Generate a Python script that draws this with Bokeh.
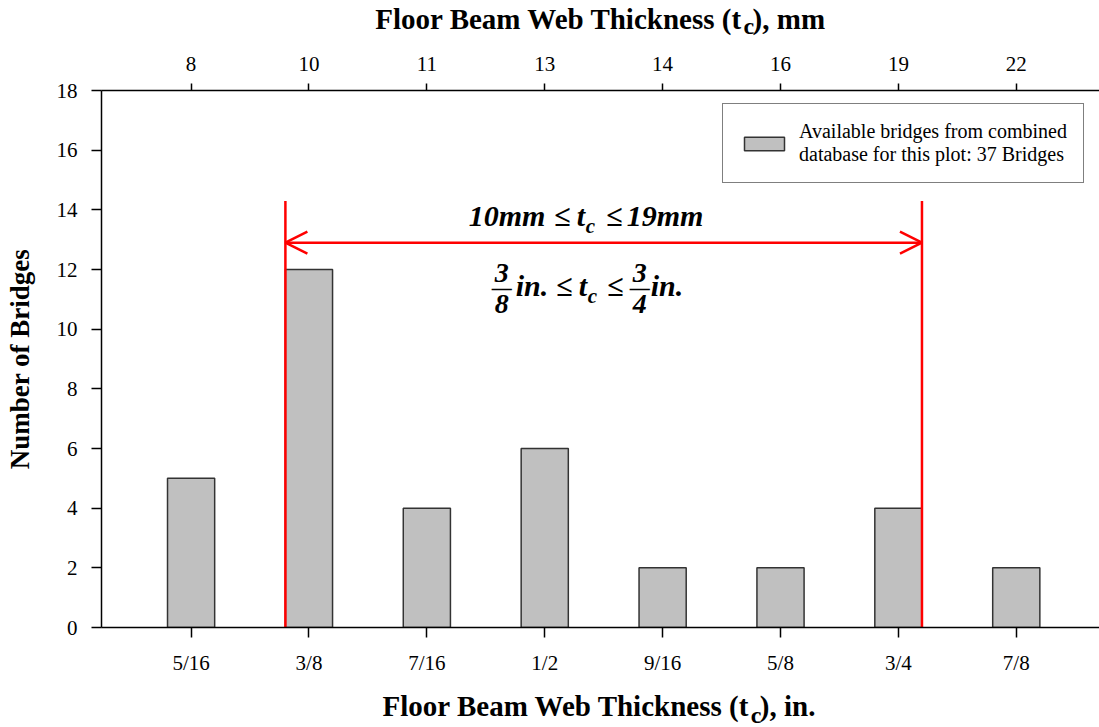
from bokeh.plotting import figure
from bokeh.layouts import column
from bokeh.models import (Range1d, LinearAxis, FixedTicker, Label, Arrow, OpenHead,
                          Legend, LegendItem)
from bokeh.core.properties import value
from bokeh.embed import file_html
from bokeh.resources import INLINE

# ---- data ----
labels_in = ["5/16", "3/8", "7/16", "1/2", "9/16", "5/8", "3/4", "7/8"]
labels_mm = ["8", "10", "11", "13", "14", "16", "19", "22"]
counts = [5, 12, 4, 6, 2, 2, 4, 2]
range_lo_idx = 1      # 3/8 in. (10 mm)
range_hi_idx = 6      # 3/4 in. (19 mm)
range_line_top = 14.3
arrow_y = 12.9
y_ticks = [0, 2, 4, 6, 8, 10, 12, 14, 16, 18]

positions = list(range(len(labels_in)))
bar_width = 0.4
FONT = "Liberation Serif"
W = 1099
TOP_H, BOT_H = 45, 44
MAIN_H = 727 - TOP_H - BOT_H

x_lo, x_hi = -0.76, 7.706
p = figure(width=W, height=MAIN_H, x_range=Range1d(x_lo, x_hi), y_range=Range1d(0, 18),
           output_backend="svg", toolbar_location=None,
           min_border_left=101, min_border_top=90 - TOP_H, min_border_right=0,
           min_border_bottom=MAIN_H - (90 - TOP_H) - 537)
p.outline_line_color = None
p.xgrid.visible = False
p.ygrid.visible = False

# bars
bars = p.vbar(x=positions, top=counts, width=bar_width, fill_color="#C0C0C0",
              line_color="#333333", line_width=1.5)

# red range lines
left_edge = range_lo_idx - bar_width / 2
right_edge = range_hi_idx + bar_width / 2
p.segment(x0=[left_edge, right_edge], y0=[0, 0], x1=[left_edge, right_edge],
          y1=[range_line_top, range_line_top], line_color="red", line_width=2.5)
p.add_layout(Arrow(start=OpenHead(size=22, line_color="red", line_width=2.5),
                   end=OpenHead(size=22, line_color="red", line_width=2.5),
                   x_start=left_edge, y_start=arrow_y, x_end=right_edge, y_end=arrow_y,
                   line_color="red", line_width=2.5))

def style_axis(ax, tick_out):
    ax.axis_line_color = "black"
    ax.axis_line_width = 1.5
    ax.major_tick_line_color = "black"
    ax.major_tick_line_width = 1.5
    ax.major_tick_out = tick_out
    ax.major_tick_in = 0
    ax.minor_tick_line_color = None
    ax.major_label_text_font = FONT
    ax.major_label_text_font_size = "21px"
    ax.major_label_text_color = "black"

# bottom axis (inches)
xa = p.xaxis[0]
xa.ticker = FixedTicker(ticks=positions)
xa.major_label_overrides = {i: s for i, s in zip(positions, labels_in)}
style_axis(xa, 10)
xa.major_label_standoff = 13

# top axis (mm)
top = LinearAxis(ticker=FixedTicker(ticks=positions),
                 major_label_overrides={i: s for i, s in zip(positions, labels_mm)})
style_axis(top, 7)
top.major_label_standoff = 13
p.add_layout(top, "above")

# y axis
ya = p.yaxis[0]
ya.ticker = FixedTicker(ticks=y_ticks)
style_axis(ya, 10)
ya.major_label_standoff = 14
ya.axis_label = "Number of Bridges"
ya.axis_label_text_font = FONT
ya.axis_label_text_font_style = "bold"
ya.axis_label_text_font_size = "27px"
ya.axis_label_text_color = "black"
ya.axis_label_standoff = 19

# legend
legend = Legend(items=[LegendItem(label="Available bridges from combined\ndatabase for this plot: 37 Bridges",
                                  renderers=[bars])],
                location=(621, 444))
legend.border_line_color = "black"
legend.border_line_width = 1.5
legend.background_fill_alpha = 1.0
legend.padding = 16
legend.margin = 0
legend.spacing = 0
legend.label_standoff = 10
legend.glyph_width = 50
legend.glyph_height = 17
legend.label_text_font = FONT
legend.label_text_font_size = "20px"
legend.label_text_color = "black"
p.add_layout(legend)

def lab(text, x, y, dx, dy, size, style="bold", align="left"):
    p.add_layout(Label(x=x, y=y, x_offset=dx, y_offset=dy, text=text, text_font=FONT,
                       text_font_size=size, text_font_style=style, text_align=align,
                       text_baseline="alphabetic", text_color="black"))

# red-range annotation text (anchored at the middle of the arrow)
ax_mid = (left_edge + right_edge) / 2
bi = "bold italic"
# line 1: 10mm <= t_c <= 19mm
lab("10mm", ax_mid, arrow_y, -135, 27, "30px", bi)
lab("\u2264", ax_mid, arrow_y, -50, 27, "30px", bi)
lab("t", ax_mid, arrow_y, -27, 27, "30px", bi)
lab("c", ax_mid, arrow_y, -18, 17, "21px", bi)
lab("\u2264", ax_mid, arrow_y, 2, 27, "30px", bi)
lab("19mm", ax_mid, arrow_y, 23, 27, "30px", bi)
# line 2: 3/8 in. <= t_c <= 3/4 in.
lab("3", ax_mid, arrow_y, -102, -30, "28px", bi, "center")
lab("\u2014", ax_mid, arrow_y, -102, -45, "20px", "bold", "center")
lab("8", ax_mid, arrow_y, -102, -61, "28px", bi, "center")
lab("in.", ax_mid, arrow_y, -88, -43, "30px", bi)
lab("\u2264", ax_mid, arrow_y, -48, -43, "30px", bi)
lab("t", ax_mid, arrow_y, -25, -43, "30px", bi)
lab("c", ax_mid, arrow_y, -16, -53, "21px", bi)
lab("\u2264", ax_mid, arrow_y, 3, -43, "30px", bi)
lab("3", ax_mid, arrow_y, 36, -30, "28px", bi, "center")
lab("\u2014", ax_mid, arrow_y, 36, -45, "20px", "bold", "center")
lab("4", ax_mid, arrow_y, 36, -61, "28px", bi, "center")
lab("in.", ax_mid, arrow_y, 47, -43, "30px", bi)


def title_fig(h, pieces):
    f = figure(width=W, height=h, x_range=Range1d(0, W), y_range=Range1d(0, h),
               output_backend="svg", toolbar_location=None, min_border=0,
               x_axis_location=None, y_axis_location=None)
    f.grid.visible = False
    f.outline_line_color = None
    for text, x, y, size, align in pieces:
        f.text(x=[x], y=[y], text=[text], text_font=value(FONT), text_font_size=size,
               text_font_style="bold", text_align=align, text_baseline="alphabetic",
               text_color="black")
    return f

# top title: Floor Beam Web Thickness (t_c), mm
top_title = title_fig(TOP_H, [
    ("Floor Beam Web Thickness (t", 706, 27, "29px", "right"),
    ("c", 707, 20, "24px", "left"),
    ("), mm", 717, 27, "29px", "left"),
])
# bottom title: Floor Beam Web Thickness (t_c), in.
bottom_title = title_fig(BOT_H, [
    ("Floor Beam Web Thickness (t", 714, 22, "29px", "right"),
    ("c", 715, 13, "24px", "left"),
    ("), in.", 725, 22, "29px", "left"),
])

layout = column(top_title, p, bottom_title, spacing=0)
open("out.html", "w").write(file_html(layout, INLINE))
